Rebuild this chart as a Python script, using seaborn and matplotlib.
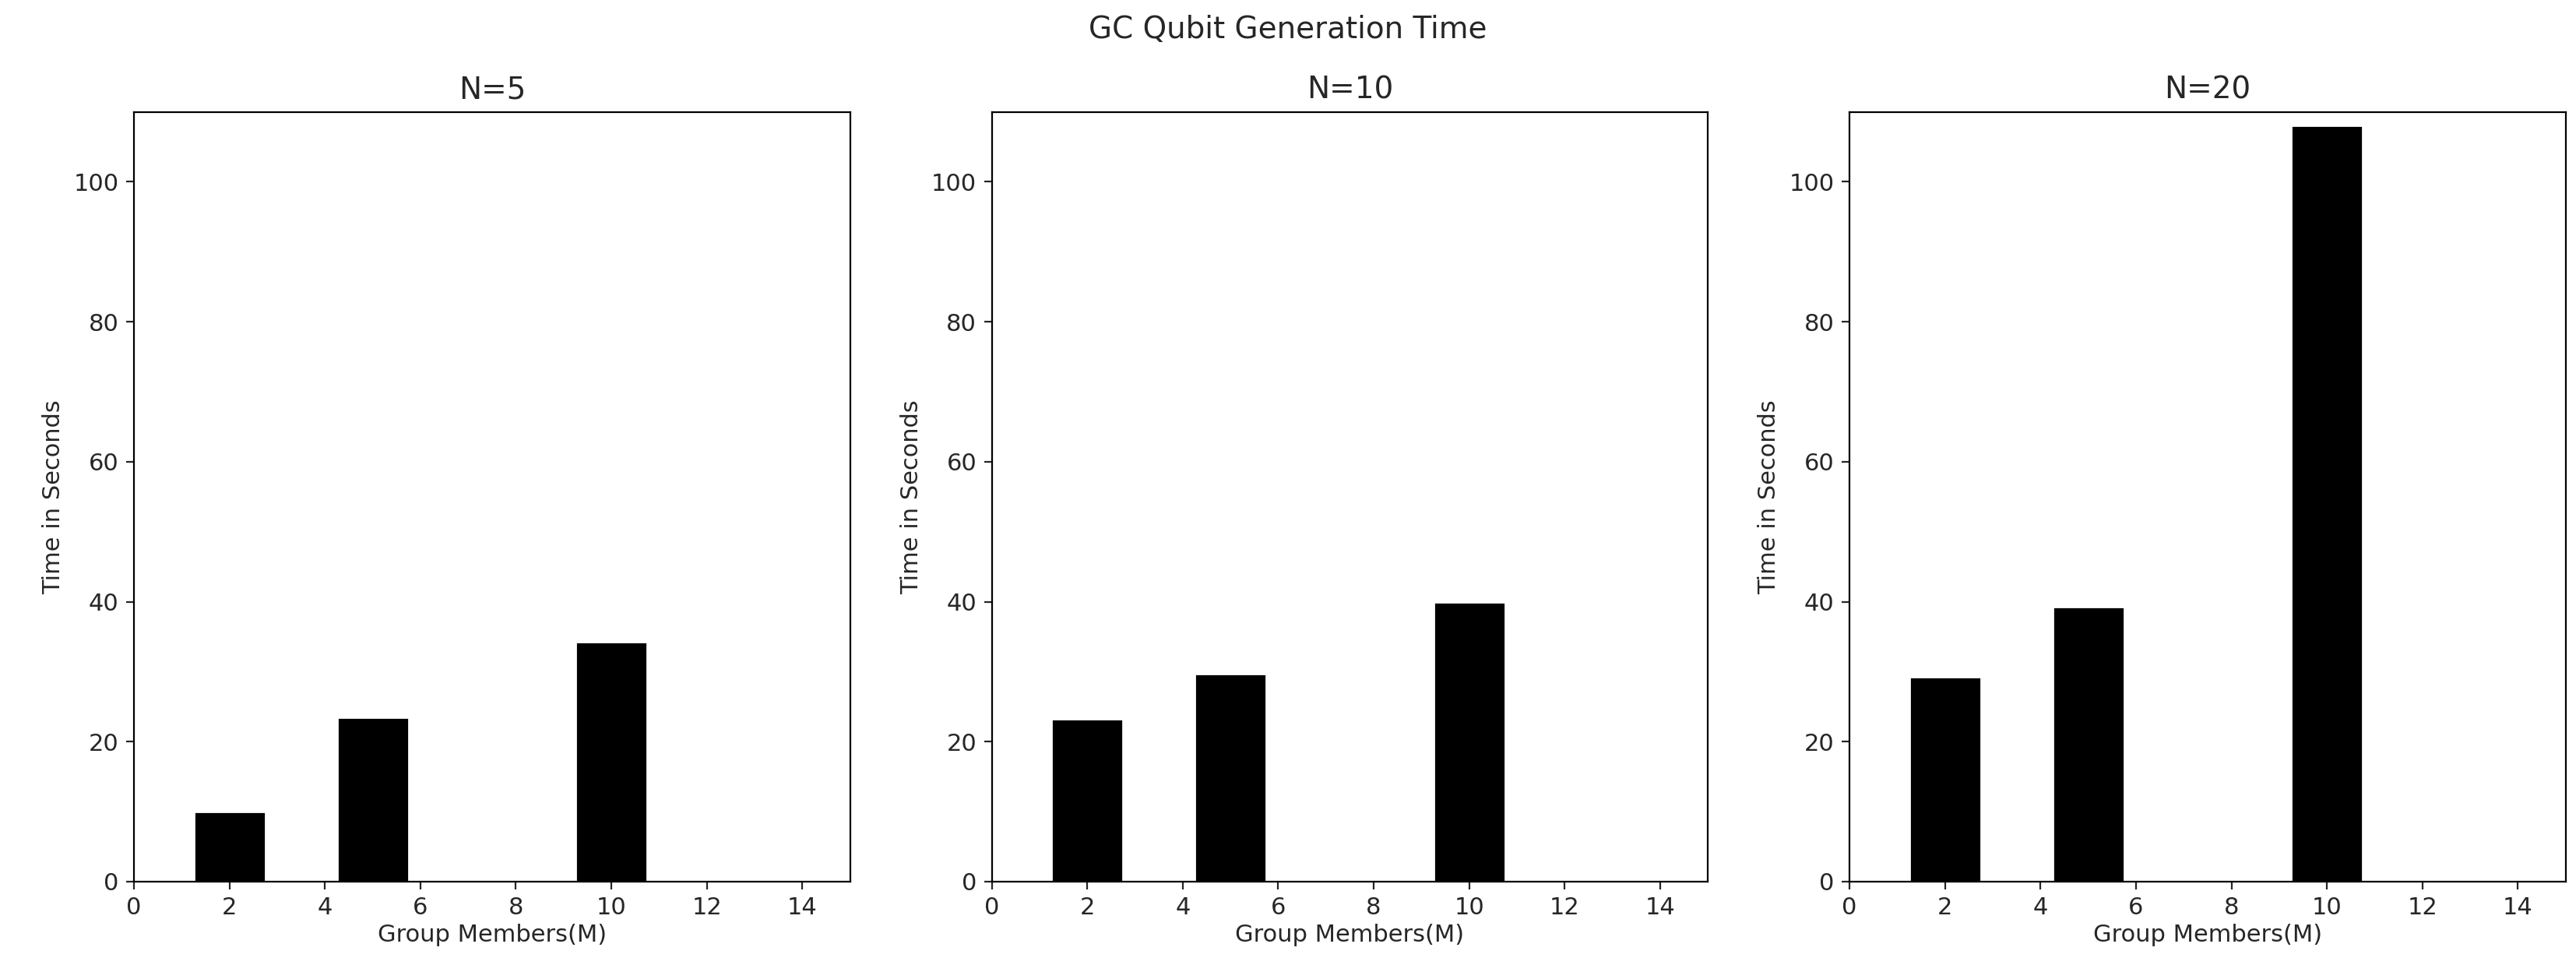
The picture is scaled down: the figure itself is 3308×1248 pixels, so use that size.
import matplotlib
matplotlib.use("Agg")
import matplotlib.pyplot as plt
import seaborn as sns
import pandas as pd

members = [2, 5, 10]
titles = ["N=5", "N=10", "N=20"]
times_n5 = [10.0, 23.5, 34.3]
times_n10 = [23.3, 29.7, 40.0]
times_n20 = [29.3, 39.3, 108.0]
series = [times_n5, times_n10, times_n20]

sns.set_style("ticks")
plt.rcParams['font.family'] = ['DejaVu Sans']
fig = plt.figure(figsize=(16.54, 6.24), dpi=200)
lefts = [0.052, 0.385, 0.718]
for left, title, vals in zip(lefts, titles, series):
    ax = fig.add_axes([left, 0.093, 0.278, 0.792])
    df = pd.DataFrame({"M": members, "T": vals})
    sns.barplot(data=df, x="M", y="T", native_scale=True, width=0.5,
                color="black", saturation=1, ax=ax, errorbar=None)
    ax.set_xlim(0, 15)
    ax.set_ylim(0, 110)
    ax.set_xticks(range(0, 15, 2))
    ax.set_yticks(range(0, 101, 20))
    ax.set_xlabel("Group Members(M)", fontsize=11, labelpad=2)
    ax.set_ylabel("Time in Seconds", fontsize=11)
    ax.set_title(title, fontsize=14)
    ax.tick_params(labelsize=11)
    for s in ax.spines.values():
        s.set_visible(True)
        s.set_color("black")
fig.suptitle("GC Qubit Generation Time", fontsize=14, y=0.985)
fig.savefig("out.png", dpi=200, facecolor="white")
